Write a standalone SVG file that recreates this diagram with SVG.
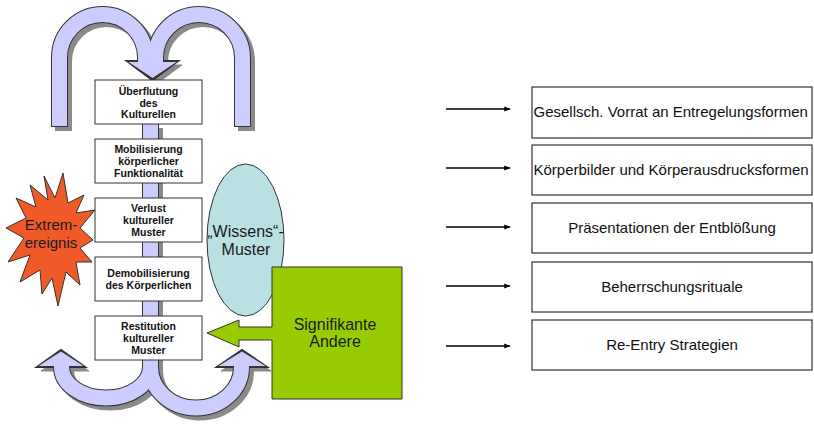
<svg xmlns="http://www.w3.org/2000/svg" width="814" height="425" viewBox="0 0 814 425">
<defs>
<style>
.sh{fill:none;stroke:#8a8a8a;stroke-width:17}
.shp{fill:#8a8a8a;stroke:#8a8a8a;stroke-width:1}
.ol{fill:none;stroke:#333;stroke-width:17}
.olp{fill:#333;stroke:#333;stroke-width:2;stroke-linejoin:miter}
.fl{fill:none;stroke:#ccccff;stroke-width:15}
.flp{fill:#ccccff;stroke:none}
.box{fill:#fff;stroke:#333;stroke-width:1}
.lt{font-family:"Liberation Sans",Arial,sans-serif;font-size:10.5px;font-weight:bold;fill:#111;text-anchor:middle}
.rt{font-family:"Liberation Sans",Arial,sans-serif;font-size:15px;fill:#111}
.bt{font-family:"Liberation Sans",Arial,sans-serif;font-size:16px;fill:#1a1a1a;text-anchor:middle}
.rbox{fill:#fff;stroke:#333;stroke-width:1.2}
.conn{stroke:#000;stroke-width:1.6;fill:none}
</style>
<marker id="ah" viewBox="0 0 10 10" refX="9" refY="5" markerWidth="4" markerHeight="4" orient="auto" markerUnits="strokeWidth">
<path d="M0,1 L10,5 L0,9 Z" fill="#000"/>
</marker>
</defs>

<g id="loops">
<!-- shadows -->
<g transform="translate(4,4)">
<path class="sh" d="M59.5,127 L59.5,57.5 A43,43 0 0 1 145.5,57.5 L145.5,62"/>
<path class="sh" d="M242.5,127 L242.5,58 A43.5,43.5 0 0 0 155.5,58 L155.5,62"/>
<polygon class="shp" points="127,61 178,61 152.5,80"/>
<path class="sh" d="M150.5,124 L150.5,367 A44.5,31 0 0 1 61.5,367 L61.5,366"/>
<path class="sh" d="M150.5,124 L150.5,367 A45.5,41 0 0 0 241.5,367 L241.5,366"/>
<polygon class="shp" points="37,367 85,367 61,350"/>
<polygon class="shp" points="217,367 267,367 242,350"/>
</g>
<!-- outlines -->
<path class="ol" d="M59.5,127 L59.5,57.5 A43,43 0 0 1 145.5,57.5 L145.5,62"/>
<path class="ol" d="M242.5,127 L242.5,58 A43.5,43.5 0 0 0 155.5,58 L155.5,62"/>
<polygon class="olp" points="127,61 178,61 152.5,80"/>
<path class="ol" d="M150.5,124 L150.5,367 A44.5,31 0 0 1 61.5,367 L61.5,366"/>
<path class="ol" d="M150.5,124 L150.5,367 A45.5,41 0 0 0 241.5,367 L241.5,366"/>
<polygon class="olp" points="37,367 85,367 61,350"/>
<polygon class="olp" points="217,367 267,367 242,350"/>
<!-- fills -->
<path class="fl" d="M59.5,126 L59.5,57.5 A43,43 0 0 1 145.5,57.5 L145.5,63"/>
<path class="fl" d="M242.5,126 L242.5,58 A43.5,43.5 0 0 0 155.5,58 L155.5,63"/>
<polygon class="flp" points="128.5,62 176.5,62 152.5,78"/>
<path class="fl" d="M150.5,124 L150.5,367 A44.5,31 0 0 1 61.5,367 L61.5,365"/>
<path class="fl" d="M150.5,124 L150.5,367 A45.5,41 0 0 0 241.5,367 L241.5,365"/>
<polygon class="flp" points="38.5,366 83.5,366 61,351.5"/>
<polygon class="flp" points="218.5,366 265.5,366 242,351.5"/>
</g>

<g id="n1"><rect class="box" x="95" y="80" width="107" height="44"/>
<text class="lt" x="148.5" y="95">Überflutung</text><text class="lt" x="148.5" y="106.5">des</text><text class="lt" x="148.5" y="118">Kulturellen</text></g>
<g id="n2"><rect class="box" x="95" y="139" width="107" height="44"/>
<text class="lt" x="148.5" y="153">Mobilisierung</text><text class="lt" x="148.5" y="165">körperlicher</text><text class="lt" x="148.5" y="177">Funktionalität</text></g>
<g id="n3"><rect class="box" x="95" y="198" width="107" height="44"/>
<text class="lt" x="148.5" y="212">Verlust</text><text class="lt" x="148.5" y="224">kultureller</text><text class="lt" x="148.5" y="236">Muster</text></g>
<g id="n4"><rect class="box" x="95" y="257" width="107" height="44"/>
<text class="lt" x="148.5" y="277">Demobilisierung</text><text class="lt" x="148.5" y="289">des Körperlichen</text></g>
<g id="n5"><rect class="box" x="95" y="316" width="107" height="44"/>
<text class="lt" x="148.5" y="330">Restitution</text><text class="lt" x="148.5" y="342">kultureller</text><text class="lt" x="148.5" y="354">Muster</text></g>

<g id="extrem">
<polygon fill="#f05a28" stroke="#333" stroke-width="1" points="63,173 68,203 84,195 76,213 95,210 80,228 93,240 80,248 92,262 76,262 80,285 66,272 58,306 52,278 42,294 40,270 20,282 30,255 8,262 24,238 6,228 26,218 16,198 36,207 30,185 48,200 44,176 55,198"/>
<text class="bt" x="51" y="230" style="font-size:15px">Extrem-</text>
<text class="bt" x="51" y="248" style="font-size:15px">ereignis</text>
</g>

<g id="wissen">
<ellipse cx="245.5" cy="240" rx="38.5" ry="76" fill="#b9e0e3" stroke="#333" stroke-width="1"/>
<text class="bt" x="245.5" y="237">„Wissens“-</text>
<text class="bt" x="246" y="255">Muster</text>
</g>

<g id="signifikant">
<polygon fill="#99cc00" stroke="#333" stroke-width="1" points="272,267 402,267 402,399 272,399 272,340 239,340 239,347 207,333 239,320 239,327 272,327"/>
<text class="bt" x="335" y="330">Signifikante</text>
<text class="bt" x="335" y="347">Andere</text>
</g>

<g id="connectors">
<line class="conn" x1="446" y1="109" x2="510" y2="109" marker-end="url(#ah)"/>
<line class="conn" x1="446" y1="168" x2="510" y2="168" marker-end="url(#ah)"/>
<line class="conn" x1="446" y1="227" x2="510" y2="227" marker-end="url(#ah)"/>
<line class="conn" x1="446" y1="286" x2="510" y2="286" marker-end="url(#ah)"/>
<line class="conn" x1="446" y1="346" x2="510" y2="346" marker-end="url(#ah)"/>
</g>

<g id="r1"><rect class="rbox" x="532" y="87" width="280" height="51"/><text class="rt" x="533.5" y="117">Gesellsch. Vorrat an Entregelungsformen</text></g>
<g id="r2"><rect class="rbox" x="532" y="145" width="280" height="50"/><text class="rt" x="533.5" y="175">Körperbilder und Körperausdrucksformen</text></g>
<g id="r3"><rect class="rbox" x="532" y="203" width="280" height="50"/><text class="rt" x="672" y="233" text-anchor="middle">Präsentationen der Entblößung</text></g>
<g id="r4"><rect class="rbox" x="532" y="262" width="280" height="50"/><text class="rt" x="672" y="292" text-anchor="middle">Beherrschungsrituale</text></g>
<g id="r5"><rect class="rbox" x="532" y="320" width="280" height="50"/><text class="rt" x="672" y="350" text-anchor="middle">Re-Entry Strategien</text></g>
</svg>
